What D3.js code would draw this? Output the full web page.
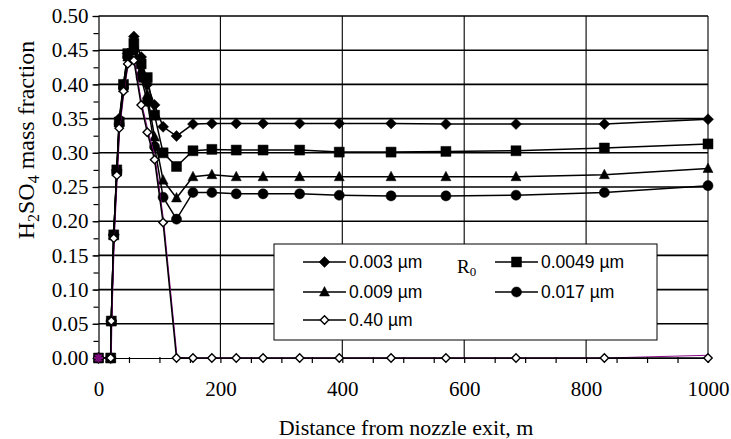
<!DOCTYPE html>
<html><head><meta charset="utf-8">
<script src="https://cdn.jsdelivr.net/npm/d3@7"></script>
<style>body{margin:0;background:#fff}svg{display:block}</style>
</head><body>
<svg id="c" width="731" height="439"></svg>
<script>
const distances = [0,20,21,25,30,34,41,48,58,70,80,92,106,128,155,186,226,270,330,395,480,570,685,830,1000];
const r003  = [0,0,0.054,0.180,0.275,0.350,0.400,0.445,0.470,0.440,0.400,0.370,0.338,0.3245,0.342,0.343,0.343,0.343,0.343,0.343,0.343,0.342,0.342,0.342,0.349];
const r0049 = [0,0,0.054,0.180,0.275,0.345,0.400,0.445,0.460,0.430,0.410,0.355,0.300,0.280,0.303,0.305,0.304,0.304,0.304,0.301,0.301,0.302,0.303,0.307,0.313];
const r009  = [0,0,0.054,0.180,0.272,0.345,0.395,0.440,0.455,0.420,0.385,0.323,0.260,0.234,0.265,0.268,0.265,0.265,0.265,0.265,0.265,0.265,0.265,0.268,0.277];
const r017  = [0,0,0.054,0.180,0.272,0.342,0.395,0.440,0.450,0.410,0.375,0.309,0.235,0.203,0.242,0.242,0.240,0.240,0.240,0.238,0.237,0.237,0.238,0.242,0.252];
const r040  = [0,0,0.054,0.175,0.267,0.336,0.390,0.430,0.435,0.370,0.330,0.290,0.198,0,0,0,0,0,0,0,0,0,0,0,0];
const rHidden = [0,0,0.054,0.175,0.267,0.336,0.390,0.430,0.435,0.372,0.333,0.293,0.200,0.001,0,0,0,0,0,0,0,0,0,0,0.004];
const seriesNames = ["0.003 \u00b5m","0.0049 \u00b5m","0.009 \u00b5m","0.017 \u00b5m","0.40 \u00b5m"];
const yTicks = [0,0.05,0.10,0.15,0.20,0.25,0.30,0.35,0.40,0.45,0.50];
const xTicks = [0,200,400,600,800,1000];
const xTitle = "Distance from nozzle exit, m";

const serif = "Liberation Serif, Times New Roman, serif";
const svg = d3.select("#c");
const x = d3.scaleLinear().domain([0,1000]).range([98.5,708]);
const y = d3.scaleLinear().domain([0,0.5]).range([358,16]);

// grid
const g = svg.append("g");
g.selectAll(".hg").data(yTicks.filter(v=>v>0)).join("line")
  .attr("x1",x(0)).attr("x2",x(1000)).attr("y1",d=>y(d)).attr("y2",d=>y(d))
  .attr("stroke","#000").attr("stroke-width",1.6);
g.selectAll(".vg").data(xTicks.filter(v=>v>0)).join("line")
  .attr("x1",d=>x(d)).attr("x2",d=>x(d)).attr("y1",y(0)).attr("y2",y(0.5))
  .attr("stroke","#000").attr("stroke-width",1.1);

// axes
const yAxis = d3.axisLeft(y).tickValues(d3.range(0,0.5001,0.025)).tickSize(5).tickFormat("");
const ya = svg.append("g").attr("transform",`translate(${x(0)},0)`).call(yAxis);
ya.selectAll("path,line").attr("stroke","#000").attr("stroke-width",1.2);
const yl = svg.append("g").attr("transform",`translate(${x(0)},0)`).call(d3.axisLeft(y).tickValues(yTicks).tickSize(6).tickPadding(4).tickFormat(d3.format(".2f")));
yl.select(".domain").remove();
yl.selectAll("line").attr("stroke","#000").attr("stroke-width",1.2);
yl.selectAll("text").attr("font-family",serif).attr("font-size",21).attr("fill","#000");

const xAxis = d3.axisBottom(x).tickValues(d3.range(0,1001,50)).tickSize(5).tickFormat("");
const xa = svg.append("g").attr("transform",`translate(0,${y(0)})`).call(xAxis);
xa.selectAll("path,line").attr("stroke","#000").attr("stroke-width",1.2);
xa.selectAll(".tick line").attr("y1",-1);
const xl = svg.append("g").attr("transform",`translate(0,${y(0)})`).call(d3.axisBottom(x).tickValues(xTicks).tickSize(0).tickPadding(23).tickFormat(d3.format("d")));
xl.select(".domain").remove();
xl.selectAll("text").attr("font-family",serif).attr("font-size",21).attr("fill","#000");

// titles
svg.append("text").attr("x",406).attr("y",435).attr("text-anchor","middle")
  .attr("font-family",serif).attr("font-size",22).text(xTitle);
const yt = svg.append("text").attr("transform","translate(34,140) rotate(-90)").attr("text-anchor","middle")
  .attr("font-family",serif).attr("font-size",24);
yt.append("tspan").text("H");
yt.append("tspan").attr("font-size",16).attr("dy",5).text("2");
yt.append("tspan").attr("dy",-5).text("SO");
yt.append("tspan").attr("font-size",16).attr("dy",5).text("4");
yt.append("tspan").attr("dy",-5).text(" mass fraction");

// marker shapes
function markerPath(type){
  if(type==="diamond") return "M0,-5.5L5.5,0L0,5.5L-5.5,0Z";
  if(type==="square") return "M-5,-5H5V5H-5Z";
  if(type==="triangle") return "M0,-5.5L5,4L-5,4Z";
  if(type==="circle") return d3.symbol(d3.symbolCircle, 80)();
  if(type==="wdiamond") return "M0,-4.2L4.2,0L0,4.2L-4.2,0Z";
}
const series = [
  {vals:r003, type:"diamond", fill:"#000"},
  {vals:r0049, type:"square", fill:"#000"},
  {vals:r009, type:"triangle", fill:"#000"},
  {vals:r017, type:"circle", fill:"#000"},
  {vals:r040, type:"wdiamond", fill:"#fff"}
];
const line = d3.line().x(d=>x(d[0])).y(d=>y(d[1]));
const plot = svg.append("g");
const hp = distances.map((d,i)=>[d,rHidden[i]]);
series.forEach((s,si)=>{
  const pts = distances.map((d,i)=>[d,s.vals[i]]);
  if(si===4){
    // hidden purple series drawn beneath the last series
    plot.append("path").datum(hp).attr("d",line).attr("fill","none").attr("stroke","#8b0a8b").attr("stroke-width",1)
      .attr("transform","translate(0.6,0)");
  }
  plot.append("path").datum(pts).attr("d",line).attr("fill","none").attr("stroke","#000").attr("stroke-width",1.5);
  plot.selectAll(null).data(pts).join("path").attr("d",markerPath(s.type))
    .attr("transform",d=>`translate(${x(d[0])},${y(d[1])})`)
    .attr("fill",s.fill).attr("stroke","#000").attr("stroke-width",s.type==="wdiamond"?1.4:0.5);
});
plot.append("path").attr("d","M-4.5,0H4.5M0,-4.5V4.5M-3.2,-3.2L3.2,3.2M-3.2,3.2L3.2,-3.2")
  .attr("transform",`translate(${x(0)},${y(0)})`).attr("stroke","#7a0a7a").attr("stroke-width",2);

// legend
const lg = svg.append("g");
lg.append("rect").attr("x",274).attr("y",244).attr("width",383).attr("height",96)
  .attr("fill","#fff").attr("stroke","#000").attr("stroke-width",1);
const legPos = [[303,262],[495,262],[303,292],[495,292],[303,320]];
series.forEach((s,i)=>{
  const [lx,ly] = legPos[i];
  lg.append("line").attr("x1",lx).attr("x2",lx+43).attr("y1",ly).attr("y2",ly).attr("stroke","#000").attr("stroke-width",1.5);
  lg.append("path").attr("d",markerPath(s.type)).attr("transform",`translate(${lx+21.5},${ly})`)
    .attr("fill",s.fill).attr("stroke","#000").attr("stroke-width",s.type==="wdiamond"?1.4:0.5);
  lg.append("text").attr("x",lx+46).attr("y",ly+6).attr("font-family","Liberation Sans, Arial, sans-serif")
    .attr("font-size",17.5).text(seriesNames[i]);
});
const r0 = lg.append("text").attr("x",457).attr("y",273).attr("font-family",serif).attr("font-size",19);
r0.append("tspan").text("R");
r0.append("tspan").attr("font-size",13).attr("dy",3).text("0");
</script>
</body></html>
